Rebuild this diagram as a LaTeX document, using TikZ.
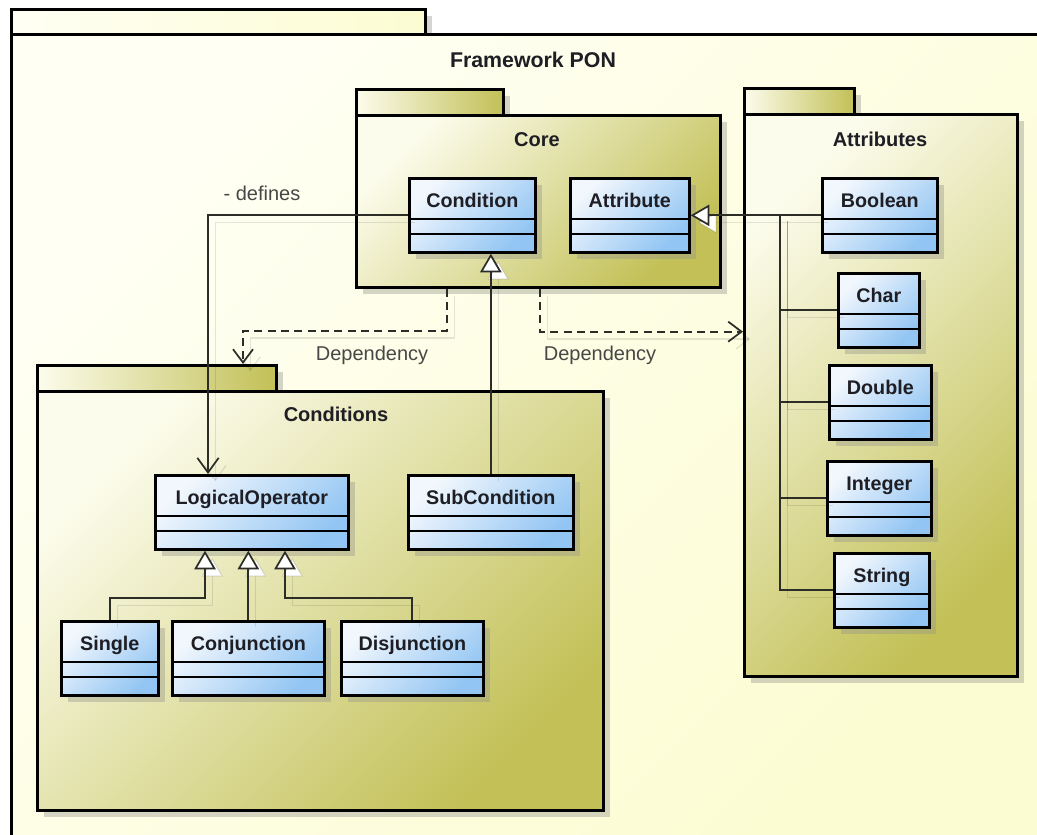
\documentclass[tikz,border=0pt]{standalone}
\usepackage{fontspec}
\setmainfont{Liberation Sans}
\usetikzlibrary{arrows.meta,shadows}

\definecolor{pkgLight}{RGB}{252,252,236}
\definecolor{pkgDark}{RGB}{194,192,86}
\definecolor{outerLight}{RGB}{255,255,244}
\definecolor{outerDark}{RGB}{252,252,210}
\definecolor{clsLight}{RGB}{242,247,253}
\definecolor{clsDark}{RGB}{146,197,243}
\definecolor{lineCol}{RGB}{45,45,40}
\definecolor{txtCol}{RGB}{30,30,36}
\definecolor{shadowCol}{RGB}{150,150,140}

\tikzset{
  box shadow/.style={general shadow={fill=shadowCol, opacity=0.4, shadow xshift=5pt, shadow yshift=-5pt}},
  pkgtab/.style={draw=black, line width=2pt, anchor=north west, inner sep=0pt, box shadow,
    left color=pkgLight, right color=pkgDark},
  pkgbody/.style={draw=black, line width=2pt, anchor=north west, inner sep=0pt, box shadow,
    left color=pkgLight, right color=pkgDark, shading angle=45},
  pkgname/.style={font=\bfseries\fontsize{15}{18}\selectfont, text=txtCol, inner sep=0pt},
  cls/.style={draw=black, line width=2pt, anchor=north west, inner xsep=2pt, inner ysep=0pt,
    text height=22pt, text depth=33.5pt, font=\bfseries\fontsize{14.8}{17}\selectfont, text=txtCol,
    box shadow, left color=clsLight, right color=clsDark, shading angle=45,
    path picture={
      \draw[line width=1.3pt] ([yshift=-30.75pt]path picture bounding box.north west)
        -- ([yshift=-30.75pt]path picture bounding box.north east);
      \draw[line width=1.3pt] ([yshift=-42pt]path picture bounding box.north west)
        -- ([yshift=-42pt]path picture bounding box.north east);
    }},
  conn/.style={draw=lineCol, line width=1.3pt,
    preaction={draw=black, draw opacity=0.1, line width=1pt, transform canvas={shift={(5.5pt,-5.5pt)}}}},
  gen/.style={conn, -{Triangle[length=14pt, width=16pt, fill=white]}},
  assoc/.style={conn, -{Straight Barb[length=11pt, width=16pt]}},
  dep/.style={conn, dash pattern=on 6pt off 4pt, -{Straight Barb[length=10pt, width=15pt]}},
  lbl/.style={font=\fontsize{15}{18}\selectfont, text=black!72, inner sep=0pt},
}

\begin{document}
\begin{tikzpicture}[x=0.75pt, y=-0.75pt]
\fill[white] (0,0) rectangle (1037,834);
\useasboundingbox (0,0) rectangle (1037,834);

% outer package
\node[pkgtab, left color=outerLight, right color=outerDark, minimum width=310.5pt, minimum height=19pt] (fw-tab) at (10,8) {};
\node[pkgbody, left color=outerLight, right color=outerDark, shading angle=45, minimum width=795pt, minimum height=601.5pt] (fw) at (10,33) {};
\node[pkgname, font=\bfseries\fontsize{16}{19}\selectfont] (fw-name) at (533,60) {Framework PON};

% Core package
\node[pkgtab, minimum width=110.25pt, minimum height=19.5pt] (core-tab) at (355,88) {};
\node[pkgbody, minimum width=273pt, minimum height=129pt] (core) at (355,114) {};
\node[pkgname] (core-name) at (537,140) {Core};

% Attributes package
\node[pkgtab, minimum width=82.5pt, minimum height=19.5pt] (attrs-tab) at (743,87) {};
\node[pkgbody, minimum width=204.75pt, minimum height=421.5pt] (attrs) at (743,113) {};
\node[pkgname] (attrs-name) at (880,139) {Attributes};

% Conditions package
\node[pkgtab, minimum width=179.25pt, minimum height=19.5pt] (cond-tab) at (36,364) {};
\node[pkgbody, minimum width=424.5pt, minimum height=314.25pt] (conds) at (36,390) {};
\node[pkgname] (conds-name) at (336,414) {Conditions};

% classes
\node[cls, minimum width=94.5pt] (condition) at (408,177) {Condition};
\node[cls, minimum width=89.25pt] (attribute) at (569,177) {Attribute};
\node[cls, minimum width=86.25pt] (boolean) at (821,177) {Boolean};
\node[cls, minimum width=60.75pt] (char) at (837,272) {Char};
\node[cls, minimum width=76.5pt] (double) at (828,364) {Double};
\node[cls, minimum width=78pt] (integer) at (826,460) {Integer};
\node[cls, minimum width=71.25pt] (string) at (833,552) {String};
\node[cls, minimum width=144.75pt] (logicalop) at (154,474) {LogicalOperator};
\node[cls, minimum width=123.75pt] (subcondition) at (407,474) {SubCondition};
\node[cls, minimum width=72.75pt] (single) at (60,620) {Single};
\node[cls, minimum width=114pt] (conjunction) at (171,620) {Conjunction};
\node[cls, minimum width=106.5pt] (disjunction) at (340,620) {Disjunction};

% attribute types generalize Attribute
\coordinate (trunk) at (780,214);
\draw[gen] (boolean.west) -- (attribute.east);
\draw[conn] (char.west) -| (trunk);
\draw[conn] (double.west) -| (trunk);
\draw[conn] (integer.west) -| (trunk);
\draw[conn] (string.west) -| (trunk);

% SubCondition generalizes Condition
\draw[gen] (subcondition.north) -- (subcondition.north |- condition.south);

% logical operator hierarchy
\coordinate (lo-g1) at ([xshift=38.25pt]logicalop.south west);
\coordinate (lo-g3) at ([xshift=98.25pt]logicalop.south west);
\draw[gen] (single.north) -- ++(0,-22) -| (lo-g1);
\draw[gen] (conjunction.north) -- (conjunction.north |- logicalop.south);
\draw[gen] (disjunction.north) -- ++(0,-22) -| (lo-g3);

% association
\draw[assoc] (condition.west) -| ([xshift=40.5pt]logicalop.north west);
\node[lbl] (defines) at (262,193) {- defines};

% package dependencies
\coordinate (dep1-a) at ([xshift=69pt]core.south west);
\coordinate (dep1-b) at ([yshift=-31.5pt]dep1-a);
\draw[dep] (dep1-a) -- (dep1-b) -| ([xshift=155.25pt]cond-tab.north west);
\node[lbl] (dep1-lbl) at (372,355) {Dependency};

\coordinate (dep2-a) at ([xshift=138.75pt]core.south west);
\coordinate (dep2-b) at ([yshift=-32.25pt]dep2-a);
\draw[dep] (dep2-a) -- (dep2-b) -- (dep2-b -| attrs.west);
\node[lbl] (dep2-lbl) at (600,355) {Dependency};
\end{tikzpicture}
\end{document}
